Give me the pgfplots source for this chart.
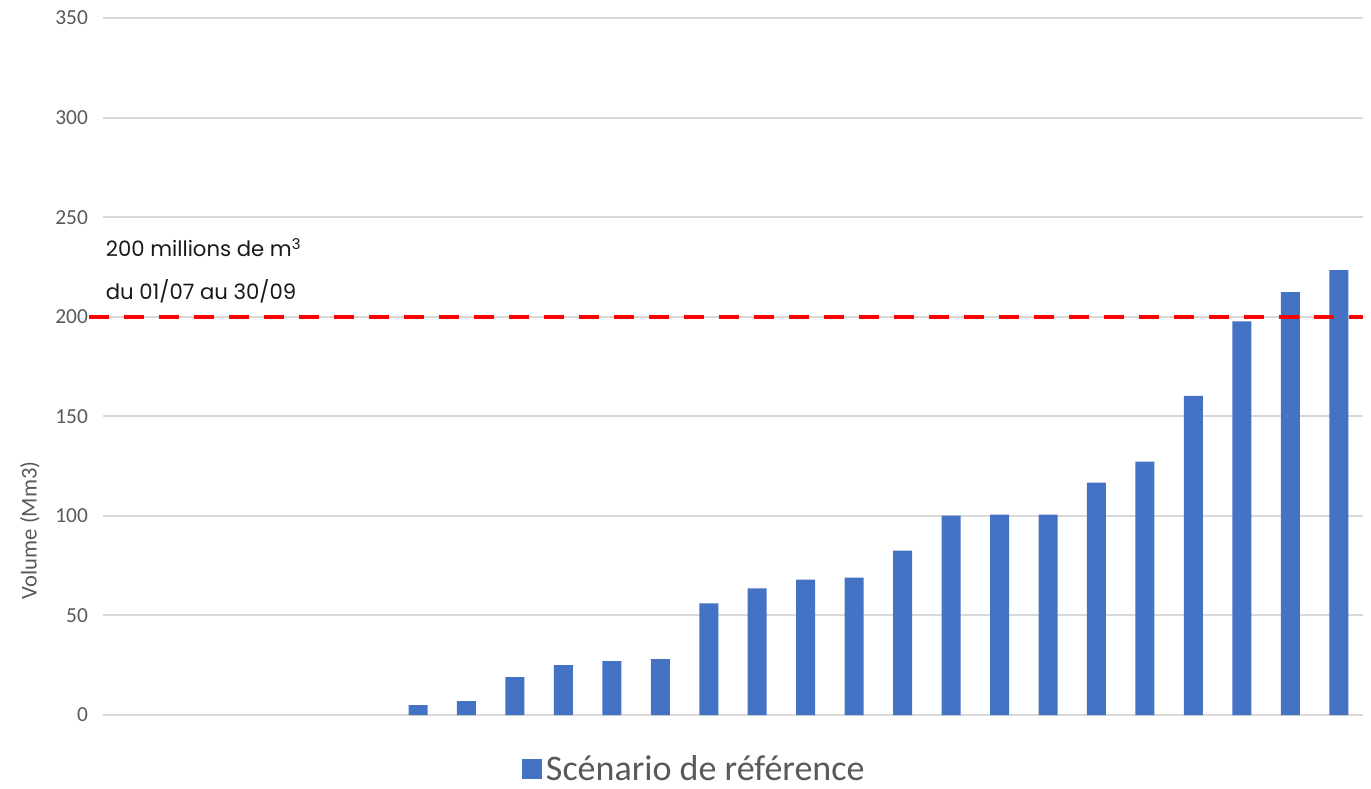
\documentclass[border=0pt]{standalone}
\usepackage{fontspec}
\setmainfont{Carlito}
\newfontfamily\annfont{Poppins}
\usepackage{pgfplots}
\pgfplotsset{compat=1.18}
\definecolor{barblue}{HTML}{4472C4}
\definecolor{gridgray}{HTML}{D9D9D9}
\definecolor{ticktext}{HTML}{595959}
\begin{document}
\begin{tikzpicture}
\begin{axis}[
  scale only axis,
  width=630pt, height=348.5pt,
  xmin=-0.5, xmax=25.5,
  ymin=0, ymax=350,
  ytick={0,50,...,350},
  xtick=\empty,
  axis line style={draw=none},
  ymajorgrids,
  grid style={gridgray, line width=1pt},
  major tick length=0pt,
  /pgf/number format/assume math mode=true,
  yticklabel style={font=\fontsize{10.7}{12}\selectfont, text=ticktext, xshift=-4pt},
  ylabel={Volume (Mm3)},
  ylabel style={font=\fontsize{11.3}{13}\selectfont, text=ticktext, at={(axis description cs:-0.058,0.265)}, anchor=center},
  clip=false,
  legend style={draw=none, fill=none, inner sep=0pt, at={(axis description cs:0.47,-0.078)}, anchor=center,
    font=\fontsize{18}{20}\selectfont, text=ticktext, legend cell align=left},
  legend image code/.code={\fill[barblue] (0pt,-5pt) rectangle (10pt,5pt);},
]
\addplot[ybar, bar width=9.5pt, fill=barblue, draw=none] coordinates {
 (6,5) (7,7) (8,19) (9,25) (10,27) (11,28) (12,56) (13,63.6) (14,68) (15,69)
 (16,82.6) (17,100.1) (18,100.6) (19,100.6) (20,116.7) (21,127.2) (22,160.2)
 (23,197.6) (24,212.3) (25,223.4)
};
\addlegendentry{Scénario de référence}
\addplot[red, line width=2pt, dash pattern=on 10pt off 7.5pt, forget plot] coordinates {(-0.79,200) (25.5,200)};
\node[anchor=base west, inner sep=0pt, font=\annfont\fontsize{10.6}{12}\selectfont, text=black!90] at (axis cs:-0.45,230) {200 millions de m\textsuperscript{3}};
\node[anchor=base west, inner sep=0pt, font=\annfont\fontsize{10.6}{12}\selectfont, text=black!90] at (axis cs:-0.45,208.4) {du 01/07 au 30/09};
\end{axis}
\pgfresetboundingbox
\path (current axis.south west) ++(-51.5pt,-36.5pt) rectangle ++(685.5pt,394pt);
\end{tikzpicture}
\end{document}
